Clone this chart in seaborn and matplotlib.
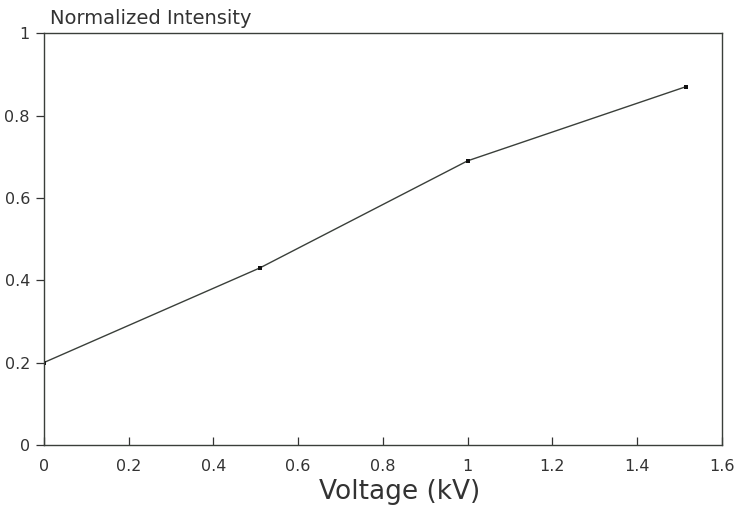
import matplotlib
matplotlib.use("Agg")
import matplotlib.pyplot as plt
import seaborn as sns
import pandas as pd

voltage_kv = [0.0, 0.51, 1.0, 1.515]
norm_intensity = [0.20, 0.43, 0.69, 0.87]
x_ticks = [0, 0.2, 0.4, 0.6, 0.8, 1.0, 1.2, 1.4, 1.6]
x_tick_labels = ["0", "0.2", "0.4", "0.6", "0.8", "1", "1.2", "1.4", "1.6"]
y_ticks = [0, 0.2, 0.4, 0.6, 0.8, 1.0]
y_tick_labels = ["0", "0.2", "0.4", "0.6", "0.8", "1"]

sns.set_theme(style="white")
plt.rcParams['font.family'] = ['DejaVu Sans']

df = pd.DataFrame({"Voltage": voltage_kv, "Intensity": norm_intensity})

fig = plt.figure(figsize=(7.42, 5.18), dpi=100)
ax = fig.add_axes([0.059, 0.141, 0.914, 0.795])
sns.lineplot(data=df, x="Voltage", y="Intensity", ax=ax, color="#3a3f3a",
             linewidth=1.0, marker="s", markersize=3.5, markeredgewidth=0,
             markerfacecolor="#111111")

ax.set_xlim(0, 1.6)
ax.set_ylim(0, 1)
ax.set_xticks(x_ticks)
ax.set_xticklabels(x_tick_labels, fontsize=11.5, color="#333333")
ax.set_yticks(y_ticks)
ax.set_yticklabels(y_tick_labels, fontsize=11.5, color="#333333")
ax.tick_params(axis="x", direction="in", length=6, width=0.9, color="#333333", pad=10)
ax.tick_params(axis="y", direction="out", length=6, width=0.9, color="#333333", pad=4)
ax.tick_params(left=True, bottom=True, top=False, right=False)
for s in ax.spines.values():
    s.set_color("#3a3f3a")
    s.set_linewidth(1.0)
ax.set_xlabel("Voltage (kV)", fontsize=19, color="#333333")
ax.xaxis.set_label_coords(0.525, -0.083)
ax.set_ylabel("")
ax.text(0.009, 1.012, "Normalized Intensity", transform=ax.transAxes,
        fontsize=14, color="#333333", ha="left", va="bottom")

fig.savefig("out.png", dpi=100)
